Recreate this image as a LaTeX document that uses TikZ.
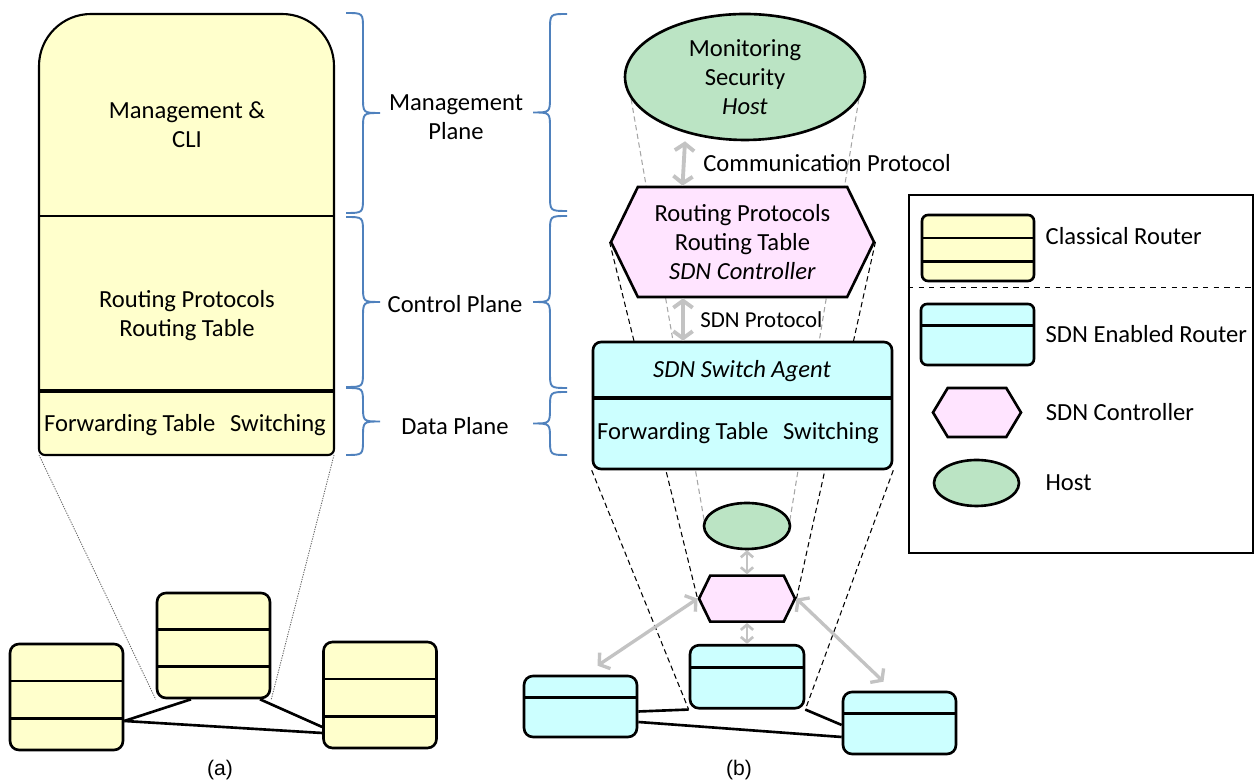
\documentclass[tikz,border=0pt]{standalone}
\usepackage{fontspec}
\setmainfont{Carlito}
\newfontfamily\capfont{Liberation Sans}
\usetikzlibrary{positioning,calc,shapes.geometric,shapes.symbols,arrows.meta,backgrounds}

\definecolor{routeryellow}{RGB}{255,255,204}
\definecolor{sdncyan}{RGB}{204,255,255}
\definecolor{ctrlpink}{RGB}{255,228,255}
\definecolor{hostgreen}{RGB}{187,228,196}
\definecolor{braceblue}{RGB}{79,129,189}
\definecolor{arrowgray}{RGB}{195,195,195}

\begin{document}
\begin{tikzpicture}[x=0.02cm,y=0.02cm,font=\fontsize{14}{16.5}\selectfont,
    txt/.style={align=center,inner sep=0pt},
    box/.style={draw,line width=1.5pt,rounded corners=0.18cm,inner sep=0pt},
    classic/.style={box,fill=routeryellow,minimum width=2.26cm,minimum height=2.1cm,
      path picture={\foreach \f in {.35,.70}
        \draw[line width=1.5pt] ($(path picture bounding box.north west)!\f!(path picture bounding box.south west)$) -- ($(path picture bounding box.north east)!\f!(path picture bounding box.south east)$);}},
    sdn/.style={box,fill=sdncyan,minimum width=2.26cm,minimum height=1.24cm,
      path picture={\draw[line width=1.5pt] ($(path picture bounding box.north west)!#1!(path picture bounding box.south west)$) -- ($(path picture bounding box.north east)!#1!(path picture bounding box.south east)$);}},
    sdn/.default=.35,
    ctrl/.style={signal,signal to=east and west,signal pointer angle=128,draw,line width=1.5pt,fill=ctrlpink,inner sep=0pt,align=center},
    host/.style={ellipse,draw,line width=1.5pt,fill=hostgreen,inner sep=0pt,align=center},
    brace/.style={draw=braceblue,line width=1.1pt},
    garrow/.style={draw=arrowgray,line width=2.2pt,<->,>={Straight Barb[length=4pt,width=11pt]}},
    sarrow/.style={garrow,line width=1.5pt,>={Straight Barb[length=3pt,width=7pt]}},
    link/.style={line width=1.5pt},
    proj/.style={draw=gray!70,line width=0.6pt,dash pattern=on 3pt off 2pt},
    projk/.style={draw=black,line width=0.6pt,dash pattern=on 3pt off 2pt},
    dots/.style={draw=gray!80!black,line width=0.5pt,dash pattern=on 0.7pt off 0.7pt}]
  \useasboundingbox (0,0) rectangle (1259,780);

  % (a) classical router, zoomed in
  \draw[line width=1.2pt,fill=routeryellow] (39,331) -- (39,714) arc[start angle=180,end angle=90,radius=52] -- (282,766) arc[start angle=90,end angle=0,radius=52] -- (334,331) arc[start angle=0,end angle=-90,radius=6] -- (45,325) arc[start angle=270,end angle=180,radius=6] -- cycle;
  \draw[line width=1.4pt] (39,564) -- (334,564);
  \draw[line width=2.5pt] (39,389) -- (334,389);
  \coordinate (bigsw) at (39,325);
  \coordinate (bigse) at (334,325);
  \node[txt] (mgmt) at (187,655) {Management \&\\CLI};
  \node[txt] (rout) at (187,464) {Routing Protocols\\Routing Table};
  \node[txt] (fwd) at (185,355) {Forwarding Table\hspace{0.6em}Switching};

  % planes
  \foreach \xb/\xt/\ya/\yb [evaluate=\xb as \xm using (\xb+\xt)/2, evaluate=\ya as \ym using (\ya+\yb)/2] in {346/380/767/567, 346/380/563/393, 346/380/392/325, 567/533/766/569, 567/533/564/392, 567/533/388/325}
    \draw[brace] (\xb,\ya) .. controls (\xm,\ya) .. (\xm,\ya-16) -- (\xm,\ym+16) .. controls (\xm,\ym) .. (\xt,\ym) .. controls (\xm,\ym) .. (\xm,\ym-16) -- (\xm,\yb+16) .. controls (\xm,\yb) .. (\xb,\yb);
  \node[txt] (mplane) at (456,663) {Management\\Plane};
  \node[txt] (cplane) at (455,476) {Control Plane};
  \node[txt] (dplane) at (455,354) {Data Plane};

  % (a) network
  \node[classic] (rm) at (213.5,134.5) {};
  \node[classic,minimum height=2.12cm] (rl) at (66.5,83) {};
  \node[classic,minimum height=2.12cm] (rr) at (380,85) {};
  \draw[link] ([xshift=-0.45cm]rm.south) -- ([yshift=-0.48cm]rl.east);
  \draw[link] ([xshift=0.93cm]rm.south) -- ([yshift=-0.64cm]rr.west);
  \draw[link] ([yshift=-0.48cm]rl.east) -- ([yshift=-0.76cm]rr.west);
  \node[font=\capfont\fontsize{12}{14}\selectfont] (capa) at (220,10) {(a)};

  % (b) SDN enabled router, zoomed in
  \node[host,minimum width=4.8cm,minimum height=2.52cm] (hbig) at (745,703) {Monitoring\\Security\\\textit{Host}};
  \node[ctrl,minimum width=5.26cm,minimum height=2.2cm] (cbig) at (742.5,538) {Routing Protocols\\Routing Table\\\textit{SDN Controller}};
  \node[box,fill=sdncyan,minimum width=5.98cm,minimum height=2.54cm,rounded corners=0.16cm] (sw) at (742.5,374.5) {};
  \draw[line width=2.5pt] ($(sw.north west)!.44!(sw.south west)$) -- ($(sw.north east)!.44!(sw.south east)$);
  \node[txt] (agent) at (742,409) {\textit{SDN Switch Agent}};
  \node[txt] (swfwd) at (738,347) {Forwarding Table\hspace{0.6em}Switching};
  \draw[garrow] ([xshift=-1.2cm]hbig.south) -- ([xshift=-1.2cm]cbig.north);
  \node[txt,anchor=west] (comm) at (703,617) {Communication Protocol};
  \draw[garrow] ([xshift=-1.19cm]cbig.south) -- ([xshift=-1.19cm]sw.north);
  \node[txt,anchor=west,font=\fontsize{13}{15}\selectfont] (sdnp) at (700,460) {SDN Protocol};

  % (b) network
  \node[host,minimum width=1.72cm,minimum height=0.92cm] (hsm) at (747,254) {};
  \node[ctrl,minimum width=1.92cm,minimum height=0.92cm,below=0.48cm of hsm] (csm) {};
  \node[sdn,minimum width=2.28cm,minimum height=1.26cm,below=0.42cm of csm] (ssm) {};
  \node[sdn,minimum height=1.22cm] (sl) at (580.5,73.5) {};
  \node[sdn,minimum height=1.24cm] (sr) at (899.5,57) {};
  \draw[link] (ssm.south west) -- ([yshift=-0.1cm]sl.east);
  \draw[link] (ssm.south east) -- ([yshift=-0.04cm]sr.west);
  \draw[link] ([yshift=-0.31cm]sl.east) -- ([yshift=-0.28cm]sr.west);
  \draw[sarrow] (hsm.south) -- (csm.north);
  \draw[sarrow] (csm.south) -- (ssm.north);
  \draw[garrow,line width=1.9pt] (csm.west) -- ([shift={(17,9)}]sl.north);
  \draw[garrow,line width=1.9pt] (csm.east) -- ([shift={(-16,9)}]sr.north);
  \node[font=\capfont\fontsize{12}{14}\selectfont] (capb) at (739,10) {(b)};

  \begin{pgfonlayer}{background}
    \draw[proj] (hbig.191) -- (hsm.172);
    \draw[proj] (hbig.349) -- (hsm.8);
    \draw[projk] (cbig.west) -- (csm.west);
    \draw[projk] (cbig.east) -- (csm.east);
    \draw[projk] (sw.south west) -- (ssm.south west);
    \draw[projk] (sw.south east) -- (ssm.south east);
    \draw[dots] (bigsw) -- (rm.south west);
    \draw[dots] (bigse) -- (rm.south east);
  \end{pgfonlayer}

  % legend
  \node[draw,line width=1.2pt,minimum width=6.88cm,minimum height=7.16cm] (legend) at (1081,406) {};
  \draw[dashed,line width=0.6pt] ([shift={(0,-94)}]legend.north west) -- ([shift={(0,-94)}]legend.north east);
  \node[classic,minimum width=2.24cm,minimum height=1.32cm,rounded corners=0.12cm] (lcr) at (978,532) {};
  \node[sdn,minimum width=2.26cm,minimum height=1.22cm,rounded corners=0.12cm] (lsr) at (977.5,445.5) {};
  \node[ctrl,minimum width=1.76cm,minimum height=0.98cm,signal pointer angle=118] (lsc) at (977,367.5) {};
  \node[host,minimum width=1.7cm,minimum height=0.92cm] (lho) at (976.5,297) {};
  \node[txt,right=0.2cm of lcr,yshift=0.24cm] (lcrt) {Classical Router};
  \node[txt,right=0.2cm of lsr] (lsrt) {SDN Enabled Router};
  \node[txt,right=0.46cm of lsc] (lsct) {SDN Controller};
  \node[txt,right=0.5cm of lho] (lhot) {Host};
\end{tikzpicture}
\end{document}
